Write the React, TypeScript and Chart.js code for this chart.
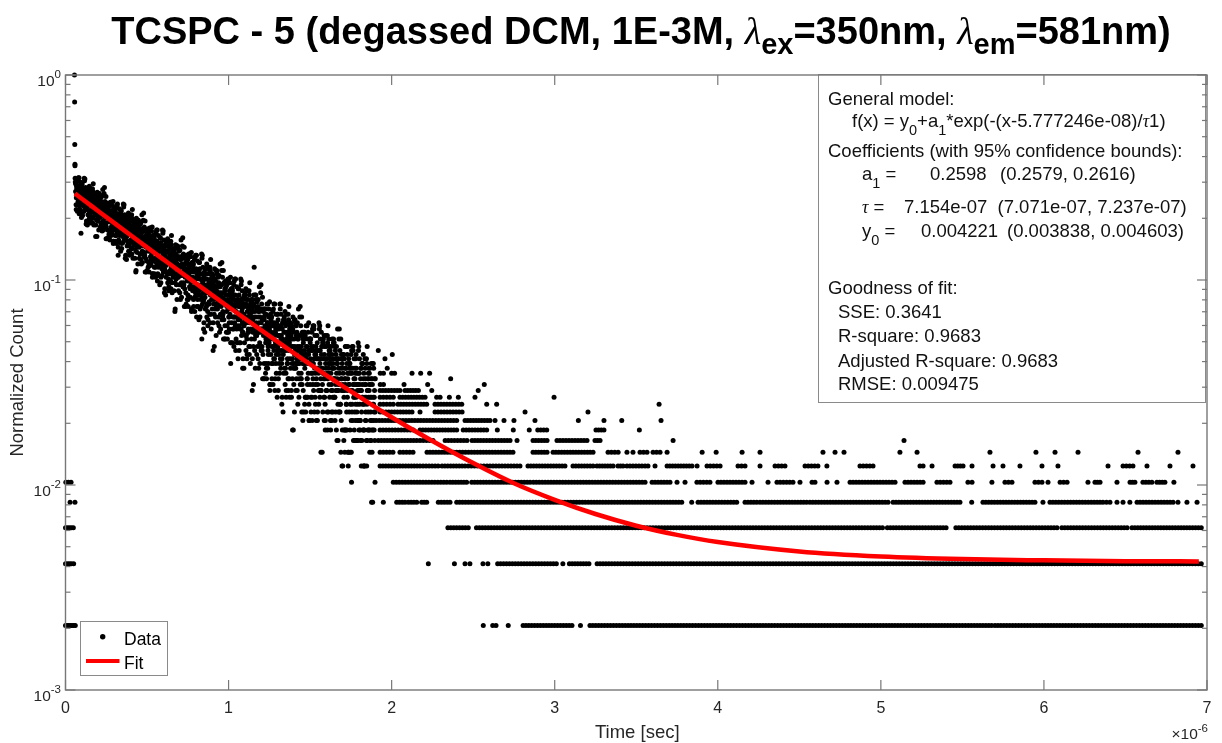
import React, { useEffect, useRef } from "react";
import { Chart, registerables } from "chart.js";

Chart.register(...registerables);

// ---------------- data ----------------
// counts are normalised by the peak count (1 count = 1/485)
const PEAK_COUNTS = 485;

const X_TICKS = [0, 1, 2, 3, 4, 5, 6, 7];
const X_TICK_LABELS = ["0", "1", "2", "3", "4", "5", "6", "7"];
const Y_DECADES = [0.001, 0.01, 0.1, 1];
const Y_TICK_EXPONENTS = ["-3", "-2", "-1", "0"];
const X_MULTIPLIER_EXPONENT = "-6";

// fit curve (time in µs, normalised count)
const fitTimes = [0.058, 0.1, 0.2, 0.3, 0.4, 0.5, 0.6, 0.8, 1.0, 1.2, 1.4, 1.6, 1.8, 2.0, 2.25, 2.5, 2.75, 3.0, 3.25, 3.5, 3.75, 4.0, 4.5, 5.0, 5.5, 6.0, 6.5, 6.95];
const fitValues = [0.264, 0.2491, 0.2172, 0.1894, 0.1652, 0.1442, 0.126, 0.0963, 0.0738, 0.0569, 0.044, 0.0343, 0.027, 0.0214, 0.0164, 0.0128, 0.0102, 0.00847, 0.00722, 0.00633, 0.00571, 0.00527, 0.00474, 0.00448, 0.00435, 0.00429, 0.00425, 0.00424];

// points before the excitation peak: [time µs, counts]
const riseDots = [
  [0.002, 5], [0.018, 5], [0.034, 5],
  [0.028, 4], [0.058, 4],
  [0.0, 3], [0.012, 3], [0.024, 3], [0.036, 3], [0.048, 3],
  [0.0, 2], [0.012, 2], [0.024, 2], [0.036, 2], [0.05, 2],
  [0.0, 1], [0.01, 1], [0.02, 1], [0.03, 1], [0.04, 1], [0.05, 1], [0.06, 1],
];
// the peak itself: [time µs, counts]
const peakDots = [[0.055, 485], [0.056, 358], [0.057, 222], [0.058, 178], [0.058, 175], [0.059, 152], [0.06, 146]];

// dense decay cloud: three interleaved series of time bins
const DECAY_START_A = 0.062;
const DECAY_START_C = 0.06275;
const DECAY_START_B = 0.0635;
const DECAY_STEP = 0.003;
const decayCountsA = [
  131, 113, 139, 148, 122, 117, 128, 153, 108, 134,
  119, 82, 98, 127, 137, 114, 122, 105, 133, 151,
  129, 113, 108, 119, 90, 134, 124, 116, 139, 106,
  100, 118, 128, 106, 112, 92, 143, 116, 107, 122,
  115, 79, 110, 104, 121, 113, 94, 128, 100, 108,
  98, 122, 103, 88, 113, 106, 116, 93, 102, 137,
  100, 92, 124, 88, 97, 109, 78, 104, 114, 96,
  80, 98, 103, 116, 86, 94, 101, 73, 95, 107,
  95, 80, 102, 110, 88, 83, 93, 64, 76, 98,
  86, 96, 67, 92, 101, 82, 88, 74, 98, 113,
  95, 81, 77, 86, 61, 99, 90, 83, 103, 75,
  71, 86, 94, 76, 81, 65, 107, 84, 77, 89,
  84, 74, 80, 53, 89, 82, 66, 95, 71, 78,
  70, 90, 74, 61, 83, 77, 85, 66, 73, 103,
  73, 66, 94, 62, 70, 81, 54, 76, 85, 69,
  57, 72, 76, 87, 61, 68, 74, 50, 69, 80,
  69, 56, 74, 81, 62, 59, 67, 85, 52, 71,
  61, 69, 46, 67, 74, 58, 63, 51, 71, 84,
  70, 58, 55, 63, 41, 74, 66, 60, 77, 53,
  49, 62, 69, 54, 58, 44, 80, 61, 54, 65,
  61, 52, 58, 34, 65, 59, 46, 71, 50, 56,
  50, 67, 53, 42, 61, 56, 63, 46, 52, 78,
  53, 47, 70, 44, 50, 59, 37, 55, 63, 50,
  39, 52, 56, 65, 44, 49, 54, 34, 50, 59,
  50, 39, 55, 61, 45, 42, 49, 64, 36, 52,
  44, 51, 31, 49, 55, 41, 46, 36, 25, 64,
  52, 42, 39, 46, 27, 55, 49, 43, 58, 37,
  34, 46, 52, 38, 42, 30, 61, 44, 39, 48,
  45, 22, 42, 39, 49, 44, 32, 54, 36, 41,
  35, 50, 38, 29, 45, 40, 46, 33, 38, 59,
  39, 34, 54, 31, 37, 44, 25, 41, 47, 36,
  27, 38, 41, 49, 30, 35, 39, 19, 36, 44,
  37, 28, 41, 46, 32, 30, 36, 49, 25, 38,
  32, 38, 20, 36, 41, 29, 33, 24, 39, 48,
  39, 30, 27, 33, 18, 41, 36, 31, 44, 26,
  25, 34, 39, 28, 31, 21, 47, 33, 28, 36,
  34, 14, 31, 28, 37, 56, 22, 41, 26, 30,
  26, 38, 28, 20, 34, 30, 35, 23, 28, 46,
  28, 23, 40, 21, 26, 32, 16, 29, 35, 25,
  18, 28, 30, 37, 21, 25, 29, 14, 26, 32,
  27, 19, 30, 34, 23, 20, 26, 37, 16, 28,
  23, 28, 13, 26, 31, 21, 24, 17, 29, 37,
  29, 22, 20, 25, 11, 31, 27, 23, 34, 18,
  17, 25, 30, 20, 23, 14, 36, 24, 20, 27,
  25, 14, 23, 20, 28, 9, 15, 31, 18, 22,
  18, 29, 20, 14, 25, 22, 26, 16, 20, 36,
  21, 17, 32, 15, 19, 25, 11, 22, 27, 19,
  13, 21, 23, 29, 15, 19, 22, 12, 19, 25,
  20, 13, 23, 27, 17, 15, 19, 29, 11, 21,
  17, 21, 10, 20, 24, 15, 18, 12, 22, 29,
  22, 16, 14, 18, 7, 24, 20, 17, 26, 13,
  12, 19, 23, 14, 17, 9, 29, 18, 15, 21,
  19, 10, 17, 15, 21, 18, 11, 24, 13, 16,
  13, 22, 15, 9, 19, 16, 20, 11, 15, 28,
  15, 12, 25, 10, 14, 19, 6, 17, 21, 14,
  9, 16, 18, 23, 11, 14, 17, 7, 15, 19,
  15, 9, 18, 21, 5, 11, 14, 23, 8, 16,
  13, 16, 10, 15, 18, 11, 14, 8, 17, 23,
  17, 12, 10, 14, 6, 19, 15, 13, 21, 9,
  9, 15, 18, 11, 13, 6, 23, 14, 11, 16,
  14, 9, 13, 11, 16, 4, 7, 19, 9, 12,
  11, 14, 5,
];
const decayCountsB = [
  143, 122, 127, 105, 135, 153, 115, 131, 124, 113,
  114, 133, 142, 121, 104, 127, 118, 152, 112, 125,
  123, 91, 127, 131, 111, 117, 136, 105, 126, 113,
  94, 114, 104, 119, 135, 110, 97, 123, 113, 128,
  118, 125, 102, 79, 112, 98, 115, 107, 128, 101,
  104, 92, 117, 109, 100, 134, 85, 99, 115, 106,
  89, 106, 101, 114, 77, 107, 99, 110, 93, 84,
  100, 96, 80, 88, 106, 91, 117, 75, 101, 104,
  105, 88, 92, 73, 99, 114, 82, 95, 90, 80,
  82, 98, 105, 87, 73, 92, 85, 114, 79, 90,
  89, 62, 92, 96, 79, 84, 100, 74, 91, 81,
  66, 83, 74, 87, 101, 79, 69, 90, 82, 94,
  86, 92, 73, 54, 81, 70, 84, 77, 95, 72,
  75, 65, 86, 79, 72, 101, 59, 71, 84, 77,
  63, 78, 74, 85, 53, 79, 72, 82, 67, 59,
  73, 70, 57, 63, 79, 65, 88, 52, 74, 77,
  77, 62, 66, 50, 72, 85, 58, 69, 64, 56,
  58, 71, 78, 62, 50, 67, 60, 85, 56, 65,
  66, 42, 68, 71, 57, 61, 75, 52, 67, 58,
  45, 60, 52, 63, 75, 56, 47, 66, 59, 69,
  63, 68, 52, 35, 59, 49, 61, 55, 71, 51,
  54, 46, 63, 57, 51, 76, 40, 51, 62, 56,
  45, 57, 54, 63, 36, 58, 52, 60, 48, 41,
  53, 51, 40, 45, 58, 47, 66, 35, 54, 57,
  58, 45, 48, 34, 53, 64, 41, 50, 46, 39,
  41, 53, 59, 45, 35, 49, 44, 65, 40, 48,
  48, 28, 50, 52, 40, 44, 55, 36, 49, 42,
  31, 44, 37, 47, 56, 41, 33, 49, 43, 52,
  47, 51, 37, 23, 43, 35, 45, 40, 54, 37,
  39, 32, 47, 42, 37, 58, 28, 36, 46, 40,
  32, 42, 39, 47, 25, 43, 38, 45, 34, 29,
  39, 37, 27, 32, 43, 33, 50, 24, 40, 42,
  43, 32, 35, 23, 39, 49, 29, 37, 34, 28,
  29, 39, 44, 32, 24, 36, 31, 49, 28, 34,
  35, 18, 37, 39, 29, 32, 42, 26, 37, 30,
  21, 32, 27, 35, 43, 30, 23, 37, 32, 39,
  35, 39, 27, 15, 32, 25, 34, 29, 41, 26,
  29, 23, 36, 32, 27, 45, 19, 27, 35, 30,
  22, 31, 28, 35, 16, 31, 27, 33, 24, 19,
  28, 27, 18, 23, 32, 24, 38, 15, 29, 31,
  32, 23, 25, 15, 29, 37, 20, 27, 24, 19,
  21, 29, 33, 23, 16, 26, 22, 37, 20, 25,
  26, 12, 28, 30, 21, 24, 32, 18, 27, 22,
  14, 24, 19, 26, 33, 22, 16, 28, 23, 30,
  26, 29, 19, 9, 23, 18, 25, 21, 31, 19,
  21, 16, 27, 23, 19, 35, 13, 19, 26, 22,
  16, 23, 21, 27, 10, 24, 20, 25, 18, 13,
  21, 20, 13, 16, 25, 17, 30, 10, 22, 24,
  25, 17, 19, 10, 22, 29, 14, 20, 18, 13,
  15, 22, 26, 18, 11, 20, 17, 30, 14, 19,
  20, 7, 21, 23, 15, 17, 25, 13, 21, 16,
  10, 18, 14, 20, 26, 16, 11, 21, 17, 23,
  20, 23, 14, 10, 18, 13, 19, 16, 24, 13,
  16, 11, 21, 17, 14, 28, 8, 14, 20, 17,
  11, 18, 16, 21, 6, 18, 15, 20, 13, 9,
  16, 15, 9, 12, 19, 13, 23, 7, 17, 18,
  19, 12, 14, 7, 17, 23, 10, 15, 13, 9,
  11, 17, 20, 13, 8, 15, 12, 24, 10, 14,
  15, 9, 16, 18, 11, 13, 19, 9, 16, 12,
  6, 13, 10, 15, 20, 12, 8, 16, 13, 18,
  15, 18, 10, 8, 13, 9, 15, 12, 19, 10,
  13, 8, 16,
];
const decayCountsC = [
  143, 107, 135, 113, 151, 121, 139, 102, 131, 146,
  105, 135, 118, 143, 100, 132, 111, 127, 148, 108,
  137, 107, 94, 132, 119, 101, 134, 114, 97, 130,
  92, 135, 121, 104, 98, 131, 116, 90, 126, 101,
  123, 90, 116, 95, 130, 102, 119, 85, 111, 126,
  88, 116, 100, 124, 84, 113, 94, 109, 128, 91,
  117, 90, 77, 113, 101, 85, 115, 97, 81, 111,
  76, 116, 103, 88, 82, 112, 99, 75, 108, 85,
  106, 75, 99, 80, 112, 87, 102, 70, 95, 108,
  74, 99, 84, 106, 69, 96, 79, 93, 110, 76,
  101, 76, 64, 97, 86, 71, 99, 82, 67, 95,
  64, 100, 88, 75, 69, 97, 85, 62, 93, 72,
  91, 62, 84, 67, 97, 73, 87, 58, 81, 93,
  62, 85, 72, 92, 58, 83, 67, 79, 95, 64,
  88, 64, 53, 84, 73, 60, 86, 70, 56, 82,
  53, 87, 76, 63, 58, 84, 72, 52, 80, 60,
  78, 52, 72, 56, 83, 61, 75, 48, 69, 80,
  51, 72, 60, 78, 47, 70, 55, 67, 82, 53,
  76, 54, 44, 72, 62, 50, 74, 59, 47, 71,
  43, 75, 64, 52, 48, 72, 61, 42, 68, 50,
  67, 43, 61, 47, 72, 52, 64, 39, 58, 69,
  43, 62, 51, 68, 39, 61, 47, 58, 71, 45,
  65, 46, 36, 62, 53, 42, 64, 50, 39, 61,
  36, 65, 56, 45, 40, 63, 53, 35, 59, 43,
  58, 36, 53, 40, 63, 44, 55, 32, 50, 60,
  36, 54, 43, 59, 32, 52, 39, 49, 62, 37,
  56, 38, 30, 53, 45, 35, 55, 42, 32, 52,
  29, 56, 47, 37, 33, 54, 45, 28, 50, 35,
  50, 30, 46, 33, 55, 37, 48, 26, 43, 52,
  30, 46, 37, 51, 27, 45, 33, 42, 54, 31,
  50, 33, 25, 47, 39, 29, 48, 37, 27, 46,
  25, 49, 41, 32, 28, 47, 38, 24, 44, 30,
  44, 24, 39, 28, 48, 32, 41, 22, 37, 45,
  24, 39, 31, 44, 22, 38, 28, 36, 46, 26,
  43, 27, 20, 40, 33, 24, 41, 31, 22, 39,
  20, 43, 36, 27, 23, 41, 33, 19, 38, 25,
  38, 20, 34, 23, 41, 27, 36, 18, 32, 39,
  21, 35, 27, 39, 18, 34, 24, 32, 42, 22,
  37, 22, 16, 34, 28, 19, 35, 26, 17, 33,
  16, 37, 30, 22, 19, 35, 28, 15, 33, 21,
  32, 16, 29, 19, 35, 22, 30, 14, 27, 33,
  17, 30, 22, 33, 14, 28, 19, 26, 35, 18,
  33, 19, 13, 30, 24, 17, 31, 22, 15, 29,
  13, 33, 27, 19, 16, 31, 25, 13, 29, 18,
  29, 13, 25, 16, 32, 19, 27, 11, 23, 30,
  14, 26, 19, 30, 12, 25, 17, 23, 32, 15,
  29, 16, 11, 26, 21, 14, 27, 19, 12, 26,
  11, 29, 23, 16, 13, 27, 21, 10, 25, 15,
  25, 11, 22, 13, 28, 16, 23, 28, 20, 26,
  12, 23, 16, 26, 10, 22, 14, 20, 28, 13,
  25, 14, 27, 23, 18, 11, 24, 16, 10, 23,
  9, 26, 20, 14, 11, 24, 19, 25, 22, 13,
  22, 9, 19, 11, 25, 14, 20, 25, 18, 23,
  10, 20, 14, 23, 8, 19, 12, 18, 25, 11,
  22, 12, 7, 20, 16, 9, 21, 14, 8, 20,
  7, 23, 18, 12, 9, 21, 16, 6, 20, 11,
  19, 7, 17, 10, 22, 12, 18, 22, 15, 20,
  8, 18, 12, 21, 8, 17, 10, 15, 22, 9,
  20, 10, 8, 18, 14, 8, 19, 12, 6, 17,
  6, 20, 16, 10, 8, 19, 14, 9, 17, 9,
  17, 7, 15, 8, 19, 10, 16, 4, 13, 18,
  9, 16, 11,
];

// tail: rows of points at fixed count levels, given as time spans [from, to] in µs
const RUN_STEP = 0.018;
const runsK1 = [[2.806, 3.106], [3.216, 5.68], [5.7, 6.965]];
const runsK2 = [[2.65, 3.01], [3.09, 3.21], [3.26, 6.965]];
const runsK3 = [[2.345, 2.47], [2.52, 5.01], [5.04, 5.4], [5.46, 6.08], [6.11, 6.51], [6.54, 6.965]];
const runsK4 = [[2.031, 2.082], [2.102, 2.154], [2.184, 2.215], [2.286, 2.358], [2.399, 3.779], [3.879, 4.116], [4.167, 4.239], [4.259, 4.545], [4.565, 5.044], [5.075, 5.467], [5.626, 5.945], [6.037, 6.344], [6.362, 6.405], [6.571, 6.792]];
const runsK5 = [[2.01, 2.338], [2.358, 2.46], [2.491, 2.849], [2.869, 3.554], [3.597, 3.707], [3.872, 3.952], [4.001, 4.167], [4.363, 4.461], [4.578, 4.596], [4.811, 5.087], [5.148, 5.259], [5.344, 5.424], [5.534, 5.559], [5.761, 5.804], [5.945, 5.988], [6.099, 6.142], [6.313, 6.344], [6.528, 6.558], [6.607, 6.662], [6.693, 6.742]];
const runsK6 = [[1.929, 2.156], [2.174, 2.285], [2.309, 2.432], [2.45, 2.585], [2.603, 2.787], [2.836, 3.063], [3.112, 3.235], [3.259, 3.358], [3.388, 3.419], [3.443, 3.535], [3.554, 3.572], [3.689, 3.842], [3.934, 4.014], [4.124, 4.167], [4.351, 4.412], [4.535, 4.614], [4.872, 4.952], [5.24, 5.259], [5.455, 5.504], [6.485, 6.546]];
const runsK7 = [[1.929, 2.008], [2.051, 2.131], [2.217, 2.744], [2.867, 2.953], [2.99, 3.235], [3.327, 3.389], [3.523, 3.566], [3.603, 3.646]];
const runsK8 = [[1.918, 2.154], [2.174, 2.254], [2.328, 2.462], [2.493, 2.726], [2.867, 2.953], [3.014, 3.198], [3.247, 3.278]];
const runsK9 = [[1.929, 2.133], [2.174, 2.399], [2.439, 2.583], [2.896, 2.951], [3.253, 3.302]];
const runsK10 = [[1.905, 2.399], [2.45, 2.603]];
const runsK11 = [[1.929, 2.125], [2.266, 2.432]];
const runsK12 = [[1.929, 2.01], [2.039, 2.215], [2.266, 2.43]];
const runsK13 = [[1.929, 2.01], [2.051, 2.205], [2.276, 2.297]];
const runsK14 = [[1.929, 2.051], [2.082, 2.164]];

// isolated tail points: [time µs, counts]
const tailDots = [
  [2.562, 1], [2.62, 1], [2.64, 1], [2.715, 1], [3.158, 1],
  [2.225, 2], [2.385, 2], [2.45, 2], [2.48, 2], [2.56, 2], [2.59, 2], [3.05, 2],
  [1.949, 4], [3.84, 4], [5.485, 4], [5.557, 4], [5.994, 4], [6.448, 4], [6.485, 4], [6.527, 4], [6.822, 4], [6.877, 4], [6.939, 4],
  [3.75, 5], [3.799, 5], [4.21, 5], [4.308, 5], [4.504, 5], [4.67, 5], [4.731, 5], [5.681, 5], [6.025, 5], [6.27, 5], [6.448, 5], [6.797, 5],
  [3.615, 6], [3.873, 6], [4.259, 6], [4.669, 6], [5.314, 6], [5.559, 6], [5.688, 6], [5.749, 6], [5.853, 6], [5.988, 6], [6.086, 6], [6.393, 6], [6.632, 6], [6.773, 6], [6.914, 6],
  [3.443, 7], [3.48, 7], [3.689, 7], [3.904, 7], [3.99, 7], [4.149, 7], [4.259, 7], [4.645, 7], [4.719, 7], [4.774, 7], [5.117, 7], [5.222, 7], [5.669, 7], [5.951, 7], [6.068, 7], [6.209, 7], [6.577, 7], [6.822, 7],
  [2.769, 8], [3.726, 8], [5.142, 8],
  [2.648, 9], [2.746, 9], [2.844, 9], [3.519, 9],
  [2.634, 10], [2.689, 10], [2.75, 10], [2.879, 10], [3.145, 10], [3.302, 10], [3.411, 10], [3.652, 10],
  [2.174, 11], [2.818, 11], [3.204, 11],
  [2.583, 12], [2.644, 12], [3.64, 12],
  [2.354, 13], [2.409, 13], [2.511, 13], [2.996, 13],
  [2.246, 14], [2.531, 14],
  [1.93, 15], [1.95, 15], [2.076, 15], [2.221, 15], [2.568, 15],
  [2.362, 16],
  [1.93, 17], [1.95, 17], [2.0, 17], [2.018, 17], [2.125, 17], [2.178, 17], [2.233, 17],
  [1.973, 18], [1.959, 20], [2.004, 21], [1.918, 22],
];

const tailRows: [number, number[][]][] = [
  [1, runsK1], [2, runsK2], [3, runsK3], [4, runsK4], [5, runsK5], [6, runsK6], [7, runsK7],
  [8, runsK8], [9, runsK9], [10, runsK10], [11, runsK11], [12, runsK12], [13, runsK13], [14, runsK14],
];

// ---------------- text ----------------
const TITLE_MAIN = "TCSPC - 5 (degassed DCM, 1E-3M, ";
const X_LABEL = "Time [sec]";
const Y_LABEL = "Normalized Count";
const LEGEND_LABELS = ["Data", "Fit"];

// ---------------- styling ----------------
const SANS = '"Liberation Sans", Arial, Helvetica, sans-serif';
const SERIF = '"Liberation Serif", "DejaVu Serif", serif';
const AXIS_COLOR = "#777777";
const TEXT_COLOR = "#262626";

function font(size: number, weight = "", style = "", family = SANS) {
  return `${style} ${weight} ${size}px ${family}`.trim().replace(/\s+/g, " ");
}

type Piece = { t: string; font: string; dy?: number };

function drawPieces(ctx: CanvasRenderingContext2D, pieces: Piece[], x: number, y: number, align: "left" | "center" | "right" = "left") {
  let total = 0;
  pieces.forEach((p) => {
    ctx.font = p.font;
    total += ctx.measureText(p.t).width;
  });
  let cx = align === "center" ? x - total / 2 : align === "right" ? x - total : x;
  ctx.textAlign = "left";
  ctx.textBaseline = "alphabetic";
  pieces.forEach((p) => {
    ctx.font = p.font;
    ctx.fillText(p.t, cx, y + (p.dy || 0));
    cx += ctx.measureText(p.t).width;
  });
}

function buildDataPoints() {
  const pts: { x: number; y: number }[] = [];
  const add = (t: number, c: number) => pts.push({ x: t, y: c / PEAK_COUNTS });
  riseDots.forEach(([t, c]) => add(t, c));
  peakDots.forEach(([t, c]) => add(t, c));
  decayCountsA.forEach((c, i) => add(DECAY_START_A + i * DECAY_STEP, c));
  decayCountsB.forEach((c, i) => add(DECAY_START_B + i * DECAY_STEP, c));
  decayCountsC.forEach((c, i) => add(DECAY_START_C + i * DECAY_STEP, c));
  tailRows.forEach(([k, runs]) =>
    runs.forEach(([a, b]) => {
      const n = Math.max(1, Math.round((b - a) / RUN_STEP));
      for (let j = 0; j <= n; j++) add(a + ((b - a) * j) / n, k);
    })
  );
  tailDots.forEach(([t, c]) => add(t, c));
  return pts;
}

const decorPlugin = {
  id: "matlabDecor",
  afterDatasetsDraw(chart: any) {
    const ctx: CanvasRenderingContext2D = chart.ctx;
    ctx.save();
    // ----- fit results box -----
    const bx = 818, by = 74, bw = 387, bh = 328;
    ctx.fillStyle = "#ffffff";
    ctx.fillRect(bx, by, bw, bh);
    ctx.strokeStyle = "#8a8a8a";
    ctx.lineWidth = 1;
    ctx.strokeRect(bx + 0.5, by + 0.5, bw, bh);
    ctx.fillStyle = "#111111";
    const F = font(18.5);
    const S = font(14.5);
    const TAU = font(18, "", "italic", SERIF);
    const sub = 8;
    drawPieces(ctx, [{ t: "General model:", font: F }], 828, 105);
    drawPieces(ctx, [
      { t: "f(x) = y", font: F }, { t: "0", font: S, dy: sub }, { t: "+a", font: F }, { t: "1", font: S, dy: sub },
      { t: "*exp(-(x-5.777246e-08)/", font: F }, { t: "τ", font: TAU }, { t: "1)", font: F },
    ], 852, 127);
    drawPieces(ctx, [{ t: "Coefficients (with 95% confidence bounds):", font: F }], 828, 157);
    drawPieces(ctx, [{ t: "a", font: F }, { t: "1", font: S, dy: sub }, { t: " =", font: F }], 862, 179.5);
    drawPieces(ctx, [{ t: "0.2598", font: F }], 930, 179.5);
    drawPieces(ctx, [{ t: "(0.2579, 0.2616)", font: F }], 1000, 179.5);
    drawPieces(ctx, [{ t: "τ", font: TAU }, { t: " =", font: F }], 862, 212.5);
    drawPieces(ctx, [{ t: "7.154e-07", font: F }], 904, 212.5);
    drawPieces(ctx, [{ t: "(7.071e-07, 7.237e-07)", font: F }], 997.5, 212.5);
    drawPieces(ctx, [{ t: "y", font: F }, { t: "0", font: S, dy: sub }, { t: " =", font: F }], 862, 236.5);
    drawPieces(ctx, [{ t: "0.004221", font: F }], 921, 236.5);
    drawPieces(ctx, [{ t: "(0.003838, 0.004603)", font: F }], 1007, 236.5);
    drawPieces(ctx, [{ t: "Goodness of fit:", font: F }], 828, 294);
    drawPieces(ctx, [{ t: "SSE: 0.3641", font: F }], 838, 318);
    drawPieces(ctx, [{ t: "R-square: 0.9683", font: F }], 838, 342);
    drawPieces(ctx, [{ t: "Adjusted R-square: 0.9683", font: F }], 838, 366.5);
    drawPieces(ctx, [{ t: "RMSE: 0.009475", font: F }], 838, 390);

    // ----- legend -----
    const ds = chart.data.datasets;
    ctx.fillStyle = "#ffffff";
    ctx.fillRect(80, 621, 88, 55);
    ctx.strokeStyle = "#8a8a8a";
    ctx.lineWidth = 1;
    ctx.strokeRect(80.5, 621.5, 87, 54);
    ctx.fillStyle = ds[0].pointBackgroundColor;
    ctx.beginPath();
    ctx.arc(102.7, 636.7, 2.7, 0, Math.PI * 2);
    ctx.fill();
    ctx.strokeStyle = ds[1].borderColor;
    ctx.lineWidth = 4;
    ctx.beginPath();
    ctx.moveTo(86, 661);
    ctx.lineTo(119.5, 661);
    ctx.stroke();
    ctx.fillStyle = "#000000";
    drawPieces(ctx, [{ t: ds[0].label, font: font(17.5) }], 124, 644.5);
    drawPieces(ctx, [{ t: ds[1].label, font: font(17.5) }], 124, 668.5);
    ctx.restore();
  },
  afterDraw(chart: any) {
    const ctx: CanvasRenderingContext2D = chart.ctx;
    const a = chart.chartArea;
    const xs = chart.scales.x;
    const ys = chart.scales.y;
    ctx.save();
    ctx.strokeStyle = AXIS_COLOR;
    ctx.lineWidth = 1.4;
    ctx.strokeRect(a.left, a.top, a.right - a.left, a.bottom - a.top);
    const line = (x1: number, y1: number, x2: number, y2: number) => {
      ctx.beginPath();
      ctx.moveTo(x1, y1);
      ctx.lineTo(x2, y2);
      ctx.stroke();
    };
    ctx.lineWidth = 1.2;
    ctx.fillStyle = TEXT_COLOR;
    // x ticks (bottom and top, pointing inward)
    X_TICKS.forEach((v, i) => {
      const px = xs.getPixelForValue(v);
      line(px, a.bottom, px, a.bottom - 10);
      line(px, a.top, px, a.top + 10);
      drawPieces(ctx, [{ t: X_TICK_LABELS[i], font: font(16) }], px, 713, "center");
    });
    // y ticks: decades (major) and 2..9 (minor), both sides
    Y_DECADES.forEach((d, i) => {
      const py = ys.getPixelForValue(d);
      line(a.left, py, a.left + 10, py);
      line(a.right, py, a.right - 10, py);
      drawPieces(ctx, [{ t: "10", font: font(15.5) }, { t: Y_TICK_EXPONENTS[i], font: font(11.5), dy: -7.5 }], 61, py + 10.5, "right");
      if (d < 1) {
        for (let m = 2; m <= 9; m++) {
          const pm = ys.getPixelForValue(d * m);
          line(a.left, pm, a.left + 5, pm);
          line(a.right, pm, a.right - 5, pm);
        }
      }
    });
    // x multiplier
    drawPieces(ctx, [{ t: "×10", font: font(15.5) }, { t: X_MULTIPLIER_EXPONENT, font: font(11.5), dy: -7.5 }], 1208, 739, "right");
    // axis labels
    drawPieces(ctx, [{ t: X_LABEL, font: font(18.5) }], (a.left + a.right) / 2 + 1, 738, "center");
    ctx.save();
    ctx.translate(22.5, (a.top + a.bottom) / 2);
    ctx.rotate(-Math.PI / 2);
    drawPieces(ctx, [{ t: Y_LABEL, font: font(18.5) }], 0, 0, "center");
    ctx.restore();
    // title
    ctx.fillStyle = "#000000";
    const B = font(38, "bold");
    const L = font(38, "", "italic", SERIF);
    const SB = font(29, "bold");
    drawPieces(ctx, [
      { t: TITLE_MAIN, font: B },
      { t: "λ", font: L }, { t: "ex", font: SB, dy: 10 }, { t: "=350nm, ", font: B },
      { t: "λ", font: L }, { t: "em", font: SB, dy: 10 }, { t: "=581nm)", font: B },
    ], 641, 44, "center");
    ctx.restore();
  },
};

export default function App() {
  const canvasRef = useRef<HTMLCanvasElement | null>(null);
  useEffect(() => {
    const canvas = canvasRef.current;
    if (!canvas) return;
    const chart = new Chart(canvas, {
      type: "scatter",
      data: {
        datasets: [
          {
            label: LEGEND_LABELS[0],
            data: buildDataPoints(),
            pointRadius: 2.5,
            pointBackgroundColor: "#000000",
            pointBorderWidth: 0,
            showLine: false,
            order: 1,
            clip: false,
          } as any,
          {
            label: LEGEND_LABELS[1],
            data: fitTimes.map((t, i) => ({ x: t, y: fitValues[i] })),
            borderColor: "#ff0000",
            borderWidth: 4.5,
            pointRadius: 0,
            showLine: true,
            cubicInterpolationMode: "monotone",
            order: 0,
          } as any,
        ],
      },
      options: {
        responsive: false,
        animation: false,
        devicePixelRatio: 1,
        events: [],
        layout: { padding: { left: 65.5, right: 15, top: 75, bottom: 53 } },
        plugins: { legend: { display: false }, tooltip: { enabled: false }, title: { display: false } },
        scales: {
          x: { type: "linear", min: 0, max: 7, display: false },
          y: { type: "logarithmic", min: 0.001, max: 1, display: false },
        },
      } as any,
      plugins: [decorPlugin],
    });
    return () => chart.destroy();
  }, []);
  return (
    <div style={{ position: "absolute", left: 0, top: 0, width: 1222, height: 743, background: "#fff" }}>
      <canvas ref={canvasRef} width={1222} height={743} style={{ display: "block" }} />
    </div>
  );
}
